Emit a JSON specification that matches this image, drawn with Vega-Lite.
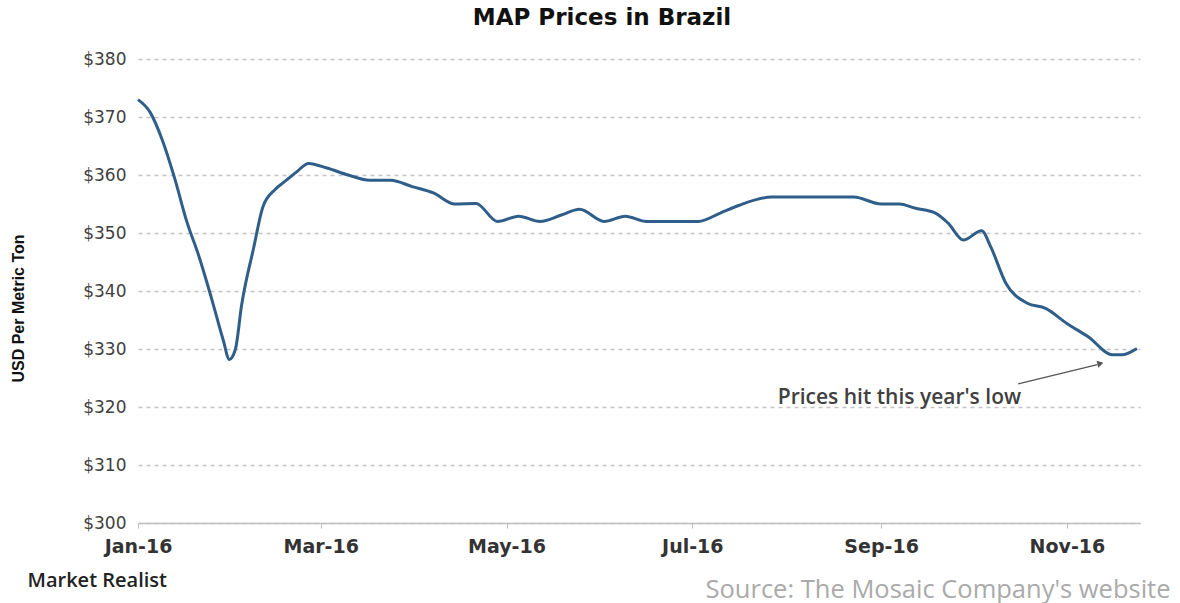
{
  "$schema": "https://vega.github.io/schema/vega-lite/v6.json",
  "width": 1002,
  "height": 464,
  "autosize": "none",
  "padding": {"left": 138, "top": 59, "right": 40, "bottom": 80},
  "background": "white",
  "title": {
    "text": "MAP Prices in Brazil",
    "font": "DejaVu Sans",
    "fontSize": 23,
    "fontWeight": "bold",
    "color": "#111111",
    "anchor": "middle",
    "dx": -37,
    "offset": 20
  },
  "config": {
    "view": {"stroke": null},
    "axis": {"labelFont": "DejaVu Sans", "titleFont": "DejaVu Sans"}
  },
  "layer": [
    {
      "data": {
        "values": [
          {"date": "2016-01-01", "price": 373},
          {"date": "2016-01-05", "price": 370.8},
          {"date": "2016-01-09", "price": 366},
          {"date": "2016-01-13", "price": 359.5},
          {"date": "2016-01-17", "price": 352},
          {"date": "2016-01-21", "price": 346},
          {"date": "2016-01-25", "price": 339},
          {"date": "2016-01-29", "price": 331.5},
          {"date": "2016-01-31", "price": 328.2},
          {"date": "2016-02-02", "price": 330},
          {"date": "2016-02-04", "price": 337.5},
          {"date": "2016-02-08", "price": 347.5},
          {"date": "2016-02-11", "price": 354.5},
          {"date": "2016-02-15", "price": 357.5},
          {"date": "2016-02-18", "price": 358.8},
          {"date": "2016-02-22", "price": 360.5},
          {"date": "2016-02-26", "price": 362},
          {"date": "2016-03-03", "price": 361.2},
          {"date": "2016-03-10", "price": 360},
          {"date": "2016-03-17", "price": 359.1},
          {"date": "2016-03-24", "price": 359.1},
          {"date": "2016-03-31", "price": 358},
          {"date": "2016-04-07", "price": 356.9},
          {"date": "2016-04-14", "price": 355},
          {"date": "2016-04-21", "price": 355.1},
          {"date": "2016-04-28", "price": 352},
          {"date": "2016-05-05", "price": 352.9},
          {"date": "2016-05-12", "price": 352},
          {"date": "2016-05-19", "price": 353.1},
          {"date": "2016-05-25", "price": 354.1},
          {"date": "2016-06-02", "price": 352},
          {"date": "2016-06-09", "price": 352.9},
          {"date": "2016-06-16", "price": 352},
          {"date": "2016-06-23", "price": 352},
          {"date": "2016-07-03", "price": 352},
          {"date": "2016-07-10", "price": 353.4},
          {"date": "2016-07-16", "price": 354.7},
          {"date": "2016-07-27", "price": 356.2},
          {"date": "2016-08-10", "price": 356.2},
          {"date": "2016-08-23", "price": 356.2},
          {"date": "2016-09-01", "price": 355},
          {"date": "2016-09-07", "price": 355},
          {"date": "2016-09-12", "price": 354.3},
          {"date": "2016-09-19", "price": 353.4},
          {"date": "2016-09-23", "price": 351.7},
          {"date": "2016-09-28", "price": 348.8},
          {"date": "2016-10-04", "price": 350.4},
          {"date": "2016-10-07", "price": 347.6},
          {"date": "2016-10-12", "price": 341.3},
          {"date": "2016-10-19", "price": 337.9},
          {"date": "2016-10-25", "price": 337},
          {"date": "2016-11-01", "price": 334.4},
          {"date": "2016-11-08", "price": 332.1},
          {"date": "2016-11-16", "price": 329},
          {"date": "2016-11-19", "price": 329},
          {"date": "2016-11-24", "price": 330.1}
        ]
      },
      "mark": {"type": "line", "color": "#2f5e8a", "strokeWidth": 3, "interpolate": "monotone"},
      "encoding": {
        "x": {
          "field": "date",
          "type": "temporal",
          "scale": {
            "type": "utc",
            "domain": [
              {"year": 2016, "month": 1, "date": 1, "utc": true},
              {"year": 2016, "month": 11, "date": 25, "utc": true}
            ]
          },
          "axis": {
            "format": "%b-%y",
            "tickCount": {"interval": "month", "step": 2},
            "labelFlush": false,
            "labelFontSize": 19,
            "labelFontWeight": "bold",
            "labelColor": "#333333",
            "labelPadding": 9,
            "tickSize": 5,
            "tickColor": "#bfbfbf",
            "domainColor": "#bfbfbf",
            "domainWidth": 1.5,
            "grid": false,
            "title": "Source: The Mosaic Company's website",
            "titleFont": "Open Sans",
            "titleFontSize": 25.5,
            "titleFontWeight": "normal",
            "titleColor": "#aaaaaa",
            "titleAlign": "right",
            "titleBaseline": "middle",
            "titleX": 1032,
            "titleY": 66
          }
        },
        "y": {
          "field": "price",
          "type": "quantitative",
          "scale": {"domain": [300, 380], "nice": false, "zero": false},
          "axis": {
            "values": [300, 310, 320, 330, 340, 350, 360, 370, 380],
            "format": "$.0f",
            "labelFontSize": 17,
            "labelColor": "#404040",
            "labelPadding": 12,
            "ticks": false,
            "domain": false,
            "grid": true,
            "gridColor": "#c4c4c4",
            "gridDash": [4, 4],
            "gridWidth": 1.5,
            "title": "USD Per Metric Ton",
            "titleFont": "Liberation Sans Narrow, Liberation Sans",
            "titleFontSize": 16,
            "titleFontWeight": "bold",
            "titleColor": "#111111",
            "titleAngle": -90,
            "titleAlign": "center",
            "titleBaseline": "middle",
            "titleX": -120,
            "titleY": 249
          }
        }
      }
    },
    {
      "data": {"values": [{"date": "2016-10-16", "price": 324.0, "date2": "2016-11-11", "price2": 327.3}]},
      "mark": {"type": "rule", "color": "#555555", "strokeWidth": 1.3},
      "encoding": {
        "x": {"field": "date", "type": "temporal", "axis": null},
        "y": {"field": "price", "type": "quantitative"},
        "x2": {"field": "date2"},
        "y2": {"field": "price2"}
      }
    },
    {
      "data": {"values": [{"date": "2016-11-12", "price": 327.5}]},
      "mark": {"type": "point", "shape": "triangle-right", "filled": true, "color": "#555555", "size": 50, "angle": 346, "opacity": 1},
      "encoding": {
        "x": {"field": "date", "type": "temporal", "axis": null},
        "y": {"field": "price", "type": "quantitative"}
      }
    },
    {
      "data": {"values": [{"date": "2016-09-07", "price": 321.5, "label": "Prices hit this year's low"}]},
      "mark": {"type": "text", "font": "Open Sans", "fontSize": 21, "fontWeight": 600, "color": "#404040", "align": "center", "baseline": "middle"},
      "encoding": {
        "x": {
          "field": "date",
          "type": "temporal",
          "axis": {
            "orient": "bottom",
            "labels": false,
            "ticks": false,
            "domain": false,
            "grid": false,
            "title": "Market Realist",
            "titleFont": "Open Sans",
            "titleFontSize": 20,
            "titleFontWeight": 600,
            "titleColor": "#222222",
            "titleAlign": "left",
            "titleBaseline": "middle",
            "titleX": -111,
            "titleY": 57
          }
        },
        "y": {"field": "price", "type": "quantitative"},
        "text": {"field": "label"}
      }
    }
  ],
  "resolve": {"axis": {"x": "independent"}}
}
